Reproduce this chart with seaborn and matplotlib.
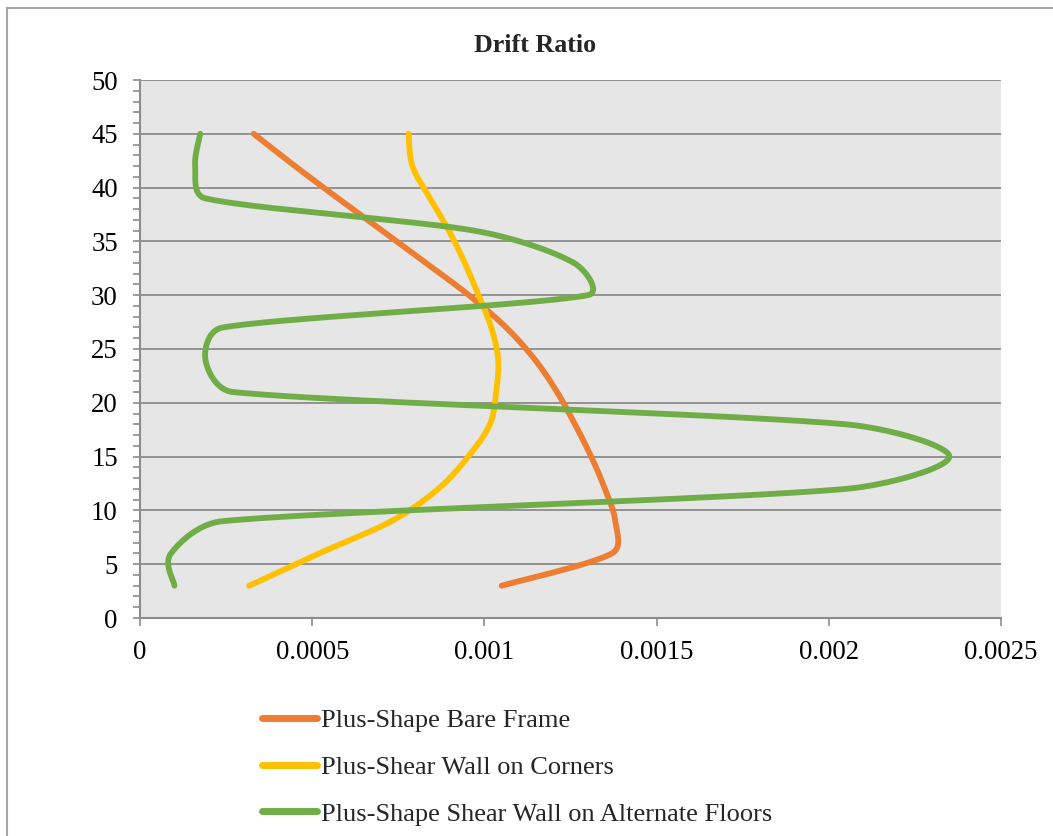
import numpy as np
import pandas as pd
import matplotlib
matplotlib.use("Agg")
import matplotlib.pyplot as plt
from matplotlib.patches import Rectangle
from matplotlib.ticker import MultipleLocator, FixedLocator, FixedFormatter
import seaborn as sns

# ---------------- data ----------------
floors = [3, 6, 9, 12, 15, 18, 21, 24, 27, 30, 33, 36, 39, 42, 45]
bare_frame = [0.00105, 0.00137, 0.00138, 0.00135, 0.00131, 0.001263, 0.001211,
              0.001147, 0.001063, 0.000955, 0.00083, 0.000703, 0.000575, 0.00045, 0.00033]
wall_corners = [0.000317, 0.00052, 0.00073, 0.000866, 0.000953, 0.001016, 0.001034,
                0.00104, 0.00102, 0.000983, 0.000943, 0.000897, 0.000842, 0.000791, 0.00078]
wall_alternate = [0.0001, 0.00009, 0.00024, 0.00205, 0.00235, 0.00205, 0.00027,
                  0.00019, 0.00024, 0.0013, 0.00126, 0.00097, 0.00019, 0.00016, 0.000175]
series_names = ["Plus-Shape Bare Frame", "Plus-Shear Wall on Corners",
                "Plus-Shape Shear Wall on Alternate Floors"]
series_colors = ["#ED7D31", "#FFC000", "#70AD47"]
x_ticks = [0, 0.0005, 0.001, 0.0015, 0.002, 0.0025]
x_tick_labels = ["0", "0.0005", "0.001", "0.0015", "0.002", "0.0025"]
y_ticks = [0, 5, 10, 15, 20, 25, 30, 35, 40, 45, 50]
title = "Drift Ratio"

W, H = 1053, 836
AX_W_PX, AX_H_PX = 861, 538
X_MAX, Y_MAX = 0.0025, 50


def smooth_path(xs, ys, steps=40):
    """Smoothed line (as in the source spreadsheet chart): cubic Bezier segments
    computed in screen space, tangent from neighbours, length capped by segment."""
    kx, ky = AX_W_PX / X_MAX, AX_H_PX / Y_MAX
    P = np.column_stack([np.asarray(xs) * kx, np.asarray(ys) * ky]).astype(float)
    n = len(P)
    tang = []
    for i in range(n):
        a = P[i - 1] if i > 0 else P[i]
        b = P[i + 1] if i < n - 1 else P[i]
        d = b - a
        L = np.hypot(*d)
        tang.append((d / L if L > 0 else d, L))
    out = []
    for i in range(n - 1):
        p1, p2 = P[i], P[i + 1]
        seg_len = np.hypot(*(p2 - p1))
        u1, L1 = tang[i]
        u2, L2 = tang[i + 1]
        c1 = p1 + u1 * min(L1 / 6.0, seg_len * 0.4)
        c2 = p2 - u2 * min(L2 / 6.0, seg_len * 0.4)
        t = np.linspace(0, 1, steps, endpoint=(i == n - 2))[:, None]
        seg = ((1 - t) ** 3) * p1 + 3 * ((1 - t) ** 2) * t * c1 + 3 * (1 - t) * t ** 2 * c2 + t ** 3 * p2
        out.append(seg)
    out = np.vstack(out)
    return out[:, 0] / kx, out[:, 1] / ky


frames = []
for name, vals in zip(series_names, [bare_frame, wall_corners, wall_alternate]):
    sx, sy = smooth_path(vals, floors)
    frames.append(pd.DataFrame({"drift": sx, "floor": sy, "series": name}))
df = pd.concat(frames, ignore_index=True)

# ---------------- style ----------------
sns.set_style("white", {"axes.facecolor": "#E6E6E6"})
plt.rcParams["font.family"] = ["Liberation Serif", "DejaVu Serif"]

fig = plt.figure(figsize=(W / 100, H / 100), dpi=100)
ax = fig.add_axes([140 / W, 1 - 618 / H, AX_W_PX / W, AX_H_PX / H])

sns.lineplot(data=df, x="drift", y="floor", hue="series", hue_order=series_names,
             palette=series_colors, sort=False, estimator=None, linewidth=4.2,
             ax=ax, legend=True)
for ln in ax.get_lines():
    ln.set_solid_capstyle("round")
    ln.set_solid_joinstyle("round")

ax.set_xlim(0, X_MAX)
ax.set_ylim(0, Y_MAX)
ax.xaxis.set_major_locator(FixedLocator(x_ticks))
ax.xaxis.set_major_formatter(FixedFormatter(x_tick_labels))
ax.yaxis.set_major_locator(FixedLocator(y_ticks))
ax.yaxis.set_minor_locator(MultipleLocator(1))
ax.set_xlabel("")
ax.set_ylabel("")

grid_c = "#8C8C8C"
ax.yaxis.grid(True, which="major", color=grid_c, linewidth=1.3)
ax.xaxis.grid(False)
ax.set_axisbelow(True)
for s in ["top", "right"]:
    ax.spines[s].set_visible(False)
for s in ["left", "bottom"]:
    ax.spines[s].set_color(grid_c)
    ax.spines[s].set_linewidth(1.5)

ax.tick_params(axis="y", which="both", direction="out", length=5, width=1.2,
               color=grid_c, left=True, labelsize=19.3, pad=11, labelcolor="black")
ax.tick_params(axis="x", which="major", direction="out", length=5.5, width=1.2,
               color=grid_c, bottom=True, labelsize=19.3, pad=10, labelcolor="black")

fig.text(535 / W, 1 - 45 / H, title, ha="center", va="center",
         fontsize=18.7, fontweight="bold")

handles, labels = ax.get_legend_handles_labels()
for h in handles:
    h.set_linewidth(5.0)
ax.legend(handles, labels, loc="upper left", bbox_to_anchor=(262 / W, 1 - 709 / H),
          bbox_transform=fig.transFigure, frameon=False, fontsize=19,
          handlelength=2.1, handletextpad=0.15, labelspacing=0.875,
          borderpad=0, borderaxespad=0)

fig.add_artist(Rectangle((7 / W, -1), 2, 1 + (1 - 8 / H), transform=fig.transFigure,
                         fill=False, edgecolor="#A6A6A6", linewidth=1.5))

fig.savefig("out.png", dpi=100, facecolor="white")
